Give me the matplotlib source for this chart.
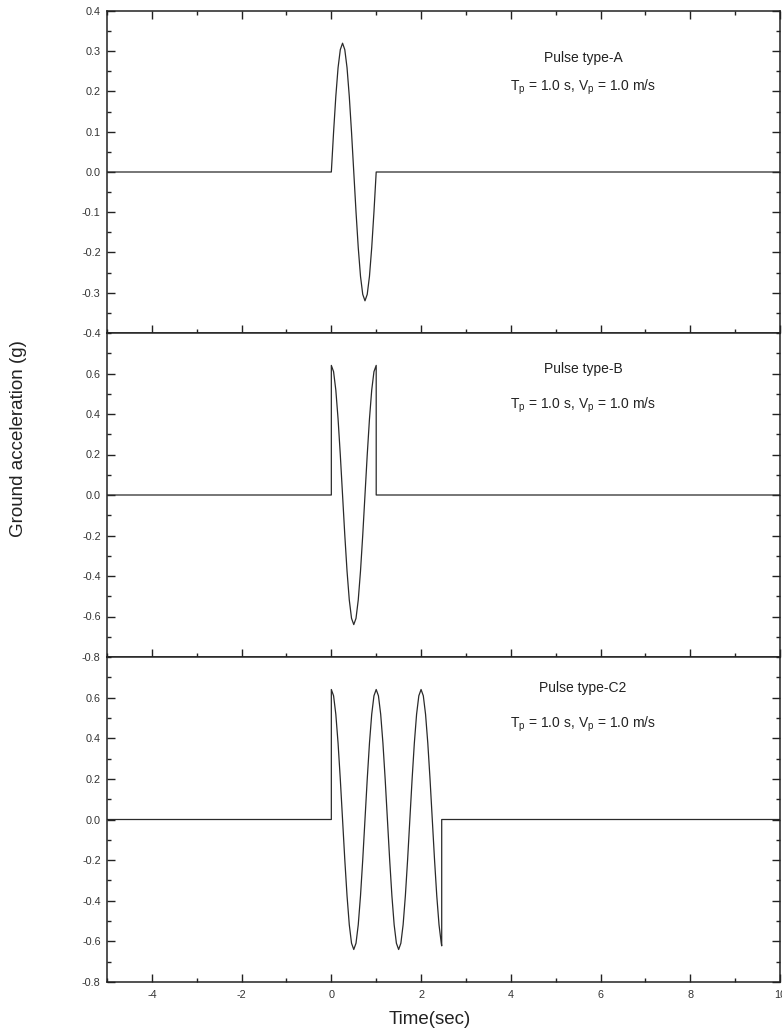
import matplotlib
matplotlib.use("Agg")
import matplotlib.pyplot as plt
from matplotlib.ticker import MultipleLocator, FixedLocator

plt.rcParams['font.family'] = ['Liberation Sans', 'DejaVu Sans']
plt.rcParams['mathtext.default'] = 'regular'
plt.rcParams['axes.unicode_minus'] = False

# ---- data ----
t_AB = [0.00, 0.05, 0.10, 0.15, 0.20, 0.25, 0.30, 0.35, 0.40, 0.45, 0.50,
        0.55, 0.60, 0.65, 0.70, 0.75, 0.80, 0.85, 0.90, 0.95, 1.00]
acc_A = [0.000, 0.099, 0.188, 0.259, 0.304, 0.320, 0.304, 0.259, 0.188, 0.099, 0.000,
         -0.099, -0.188, -0.259, -0.304, -0.320, -0.304, -0.259, -0.188, -0.099, 0.000]
acc_B = [0.640, 0.609, 0.518, 0.376, 0.198, 0.000, -0.198, -0.376, -0.518, -0.609, -0.640,
         -0.609, -0.518, -0.376, -0.198, 0.000, 0.198, 0.376, 0.518, 0.609, 0.640]
t_C2 = [0.00, 0.05, 0.10, 0.15, 0.20, 0.25, 0.30, 0.35, 0.40, 0.45,
        0.50, 0.55, 0.60, 0.65, 0.70, 0.75, 0.80, 0.85, 0.90, 0.95,
        1.00, 1.05, 1.10, 1.15, 1.20, 1.25, 1.30, 1.35, 1.40, 1.45,
        1.50, 1.55, 1.60, 1.65, 1.70, 1.75, 1.80, 1.85, 1.90, 1.95,
        2.00, 2.05, 2.10, 2.15, 2.20, 2.25, 2.30, 2.35, 2.40, 2.45, 2.46]
acc_C2 = [0.640, 0.609, 0.518, 0.376, 0.198, 0.000, -0.198, -0.376, -0.518, -0.609,
          -0.640, -0.609, -0.518, -0.376, -0.198, 0.000, 0.198, 0.376, 0.518, 0.609,
          0.640, 0.609, 0.518, 0.376, 0.198, 0.000, -0.198, -0.376, -0.518, -0.609,
          -0.640, -0.609, -0.518, -0.376, -0.198, 0.000, 0.198, 0.376, 0.518, 0.609,
          0.640, 0.609, 0.518, 0.376, 0.198, 0.000, -0.198, -0.376, -0.518, -0.609, -0.622]
t_start, t_end = -5.0, 10.0
pulse_names = ["Pulse type-A", "Pulse type-B", "Pulse type-C2"]
param_text = "T$_p$ = 1.0 s, V$_p$ = 1.0 m/s"
x_ticks = [-4, -2, 0, 2, 4, 6, 8, 10]
yticks_A = [-0.4, -0.3, -0.2, -0.1, 0.0, 0.1, 0.2, 0.3, 0.4]
yticks_BC = [-0.8, -0.6, -0.4, -0.2, 0.0, 0.2, 0.4, 0.6]

def full_series(t, a):
    # zero before and after the pulse, with vertical jumps at its ends
    tt = [t_start, t[0]] + list(t) + [t[-1], t_end]
    aa = [0.0, 0.0] + list(a) + [0.0, 0.0]
    return tt, aa

fig = plt.figure(figsize=(7.82, 10.33), dpi=100)
W, H = 782, 1033
left, right = 107, 780
edges = [11, 333, 657, 982]

series = [full_series(t_AB, acc_A), full_series(t_AB, acc_B), full_series(t_C2, acc_C2)]
ylims = [(-0.4, 0.4), (-0.8, 0.8), (-0.8, 0.8)]
yticks = [yticks_A, yticks_BC, yticks_BC]
yminor = [0.05, 0.1, 0.1]
text_y = [(58, 87), (369, 405), (688, 724)]
text_x = 583

axes = []
for i in range(3):
    top, bot = edges[i], edges[i + 1]
    ax = fig.add_axes([left / W, 1 - bot / H, (right - left) / W, (bot - top) / H])
    axes.append(ax)
    tt, aa = series[i]
    ax.plot(tt, aa, color='#2a2a2a', lw=0.9)
    ax.set_xlim(t_start, t_end)
    ax.set_ylim(*ylims[i])
    ax.xaxis.set_major_locator(FixedLocator(x_ticks))
    ax.xaxis.set_minor_locator(MultipleLocator(1))
    ax.yaxis.set_major_locator(FixedLocator(yticks[i]))
    ax.yaxis.set_minor_locator(MultipleLocator(yminor[i]))
    ax.tick_params(which='both', direction='in', right=True, top=(i == 0),
                   color='#222222', width=1.0, labelsize=7.8, labelcolor='#333333')
    ax.tick_params(axis='y', which='both', pad=4.5)
    ax.tick_params(axis='x', which='both', pad=6)
    ax.tick_params(which='major', length=6)
    ax.tick_params(which='minor', length=3)
    if i < 2:
        ax.tick_params(labelbottom=False)
    for s in ax.spines.values():
        s.set_linewidth(1.1)
        s.set_color('#222222')
    y1, y2 = text_y[i]
    ax.text(text_x / W, 1 - y1 / H, pulse_names[i], transform=fig.transFigure,
            ha='center', va='center', fontsize=10, color='#222222')
    ax.text(text_x / W, 1 - y2 / H, param_text, transform=fig.transFigure,
            ha='center', va='center', fontsize=10, color='#222222')

fig.text(430 / W, 1 - 1020 / H, "Time(sec)", ha='center', va='center',
         fontsize=13.5, color='#222222')
fig.text(19 / W, 1 - 439 / H, "Ground acceleration (g)", ha='center', va='center',
         rotation=90, fontsize=13.5, color='#222222')

fig.savefig("out.png", dpi=100)
